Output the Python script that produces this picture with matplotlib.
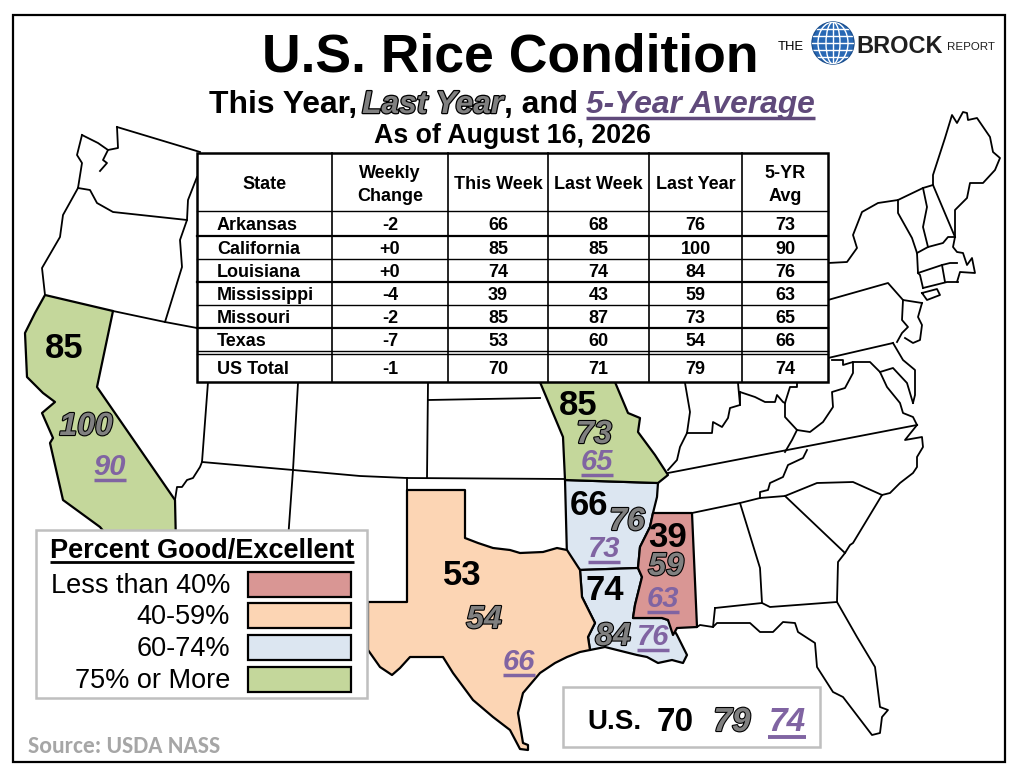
import matplotlib
matplotlib.use('Agg')
import matplotlib.pyplot as plt
from matplotlib.patches import Polygon, Rectangle, Circle, Ellipse
import matplotlib.patheffects as pe
from matplotlib import font_manager as fm

# ---------------- data ----------------
states = ['Arkansas', 'California', 'Louisiana', 'Mississippi', 'Missouri', 'Texas']
weekly_change = [-2, 0, 0, -4, -2, -7]
this_week = [66, 85, 74, 39, 85, 53]
last_week = [68, 85, 74, 43, 87, 60]
last_year = [76, 100, 84, 59, 73, 54]
five_yr_avg = [73, 90, 76, 63, 65, 66]

us_change = -1
us_this_week = 70
us_last_week = 71
us_last_year = 79
us_five_yr = 74

headers = [['State'], ['Weekly', 'Change'], ['This Week'], ['Last Week'], ['Last Year'], ['5-YR', 'Avg']]
legend_labels = ['Less than 40%', '40-59%', '60-74%', '75% or More']
legend_colors = ['#D99694', '#FCD5B4', '#DCE6F1', '#C4D79B']
bin_edges = [40, 60, 75]

title = 'U.S. Rice Condition'
date_line = 'As of August 16, 2026'
source = 'Source: USDA NASS'

# ---------------- fonts ----------------
def have(name):
    try:
        fm.findfont(fm.FontProperties(family=name), fallback_to_default=False)
        return True
    except Exception:
        return False

HAS_NARROW = have('Liberation Sans Narrow')
NARROW = 'Liberation Sans Narrow' if HAS_NARROW else 'Liberation Sans'
NS = 1.0 if HAS_NARROW else 0.94
ARIAL = 'Liberation Sans'
SRC = 'Carlito' if have('Carlito') else 'Lato'

GRAY = '#808080'
PURPLE = '#8064A2'
PURPLE_DARK = '#604A7B'

fig = plt.figure(figsize=(10.24, 7.75), dpi=100)
ax = fig.add_axes([0, 0, 1, 1])
ax.set_xlim(0, 1024)
ax.set_ylim(775, 0)
ax.axis('off')
R = fig.canvas.get_renderer()


def txt(x, y, s, size, family=ARIAL, weight='bold', style='normal', color='black',
        ha='center', va='baseline', outline=False, z=10, olw=1.6):
    t = ax.text(x, y, s, fontsize=size, family=[family, 'DejaVu Sans'], weight=weight,
                style=style, color=color, ha=ha, va=va, zorder=z)
    if outline:
        t.set_path_effects([pe.Stroke(linewidth=olw, foreground='black'), pe.Normal()])
    return t


def underline(t, dy=5, lw=2.5, color=None, pad=0):
    bb = t.get_window_extent(renderer=R)
    inv = ax.transData.inverted()
    (x0, _), (x1, _) = inv.transform([[bb.x0, bb.y0], [bb.x1, bb.y1]])
    y = t.get_position()[1] + dy
    ax.plot([x0 - pad, x1 + pad], [y, y], color=color or t.get_color(), lw=lw,
            solid_capstyle='butt', zorder=t.get_zorder())


def seq(pieces, xc, y):
    ts, widths = [], []
    for s, kw, gap in pieces:
        t = txt(0, y, s, ha='left', **kw)
        bb = t.get_window_extent(renderer=R)
        ts.append(t)
        widths.append(bb.width + gap)
    total = sum(widths) - pieces[-1][2]
    x = xc - total / 2
    for t, w in zip(ts, widths):
        t.set_x(x)
        x += w
    return ts


# ---------------- frame ----------------
ax.add_patch(Rectangle((13, 15), 992, 747, fill=False, ec='black', lw=1.6, zorder=20))

# ---------------- map ----------------
state_shapes = {
    'California': [(45, 295), (113, 311), (97, 387), (175, 500), (176, 545), (115, 545), (100, 527),
                   (63, 500), (50, 443), (53, 438), (42, 413), (55, 402), (43, 393), (27, 377),
                   (25, 333), (35, 313)],
    'Missouri': [(537, 375), (612, 375), (628, 413), (640, 418), (638, 432), (655, 455), (668, 475),
                 (658, 483), (565, 480), (563, 437)],
    'Arkansas': [(565, 480), (658, 483), (657, 497), (653, 513), (650, 527), (640, 547), (638, 568),
                 (580, 570), (567, 557)],
    'Louisiana': [(580, 570), (638, 568), (642, 577), (635, 605), (633, 618), (662, 618), (668, 620),
                  (677, 635), (687, 655), (683, 663), (672, 660), (658, 663), (647, 657), (637, 655),
                  (617, 650), (605, 647), (590, 650), (588, 637), (595, 623), (590, 613), (582, 597)],
    'Mississippi': [(653, 513), (692, 513), (697, 627), (677, 628), (673, 635), (668, 620), (662, 618),
                    (633, 618), (635, 605), (642, 577), (638, 568), (640, 547), (650, 527)],
    'Texas': [(407, 490), (465, 490), (465, 538), (478, 543), (493, 548), (510, 550), (520, 553),
              (543, 552), (557, 548), (567, 550), (580, 570), (582, 597), (590, 613), (595, 623),
              (588, 637), (590, 650), (580, 652), (567, 657), (555, 663), (540, 673), (523, 693),
              (518, 713), (523, 743), (528, 745), (528, 750), (520, 749), (510, 730), (493, 717),
              (473, 700), (453, 673), (443, 657), (410, 657), (400, 668), (392, 675), (380, 667),
              (368, 650), (368, 602), (407, 602)],
}


def cat(v):
    return sum(v >= e for e in bin_edges)


for name, val in zip(states, this_week):
    ax.add_patch(Polygon(state_shapes[name], closed=True, fc=legend_colors[cat(val)],
                         ec='black', lw=1.6, joinstyle='round', zorder=2))

border_lines = [
    # west
    [(117, 127), (200, 152)],
    [(117, 127), (118, 148), (108, 150)],
    [(82, 135), (98, 143), (108, 150), (103, 160), (107, 163), (100, 171)],
    [(82, 135), (77, 155), (82, 163), (78, 188)],
    [(78, 188), (90, 190), (97, 203), (113, 212), (187, 220)],
    [(78, 188), (63, 215), (60, 237), (42, 268), (45, 295)],
    [(197, 177), (188, 200), (187, 220), (180, 240), (182, 267), (165, 322)],
    [(113, 311), (165, 322), (197, 328)],
    [(208, 382), (202, 462)],
    [(202, 462), (200, 467), (193, 478), (187, 480), (182, 487), (177, 487), (175, 500)],
    [(202, 462), (293, 470), (360, 476), (407, 478), (565, 479)],
    [(298, 383), (293, 470), (288, 540)],
    [(428, 383), (427, 478)],
    [(428, 400), (540, 398)],
    [(407, 478), (407, 490)],
    [(368, 602), (340, 602)],
    # midwest / east
    [(685, 383), (690, 412), (687, 433)],
    [(687, 433), (680, 447), (677, 460), (668, 470)],
    [(687, 433), (712, 433), (713, 422), (722, 427), (728, 418), (730, 408), (740, 405), (740, 392)],
    [(738, 383), (740, 405)],
    [(740, 392), (755, 397), (765, 402), (775, 402), (777, 395), (783, 402), (785, 403)],
    [(797, 383), (797, 387), (790, 387), (785, 403)],
    [(785, 403), (785, 417), (797, 430), (810, 432), (823, 422), (833, 407), (832, 392), (845, 388),
     (853, 373), (853, 362), (843, 365), (843, 360), (832, 360)],
    [(828, 358), (893, 343)],
    [(853, 362), (870, 362), (880, 372), (887, 387), (900, 403), (903, 413), (913, 417), (917, 425)],
    [(893, 343), (903, 360), (915, 370), (915, 395), (913, 403)],
    [(880, 372), (893, 368), (907, 383), (913, 403)],
    [(797, 430), (792, 440), (785, 452)],
    [(668, 473), (917, 425)],
    [(917, 425), (905, 440), (922, 437), (923, 447), (917, 457), (917, 467), (913, 473), (900, 483),
     (890, 493), (882, 495)],
    [(807, 450), (803, 458), (788, 465), (783, 477), (770, 483), (768, 490), (760, 492), (760, 498)],
    [(692, 513), (740, 503), (760, 498), (785, 496), (817, 483), (853, 482), (882, 495)],
    [(785, 496), (845, 553), (850, 545), (853, 543), (882, 495)],
    [(740, 503), (760, 568), (762, 603)],
    [(715, 608), (762, 603), (770, 607), (837, 602)],
    [(845, 553), (838, 562), (837, 602)],
    [(837, 602), (857, 637), (875, 667), (880, 707), (888, 710), (882, 717), (880, 733), (872, 735),
     (843, 697), (833, 692), (817, 667), (815, 643), (798, 632), (795, 623), (783, 622), (773, 632),
     (760, 632), (750, 623), (717, 623), (713, 627), (715, 608)],
    [(697, 627), (700, 625), (713, 627)],
    # northeast
    [(828, 263), (847, 262), (857, 248), (853, 235), (862, 212), (878, 203), (898, 200), (923, 188),
     (933, 185)],
    [(898, 200), (898, 213), (912, 238), (917, 253), (918, 273), (920, 275), (923, 288)],
    [(923, 188), (927, 207), (923, 227), (928, 247)],
    [(933, 185), (955, 237)],
    [(933, 185), (933, 175), (945, 138), (952, 115), (957, 123), (963, 112), (967, 113), (968, 120),
     (977, 118), (990, 137), (993, 152), (1000, 158), (995, 170), (983, 183), (970, 183), (967, 198),
     (955, 210), (955, 237)],
    [(917, 253), (928, 247), (943, 243), (948, 237), (955, 237)],
    [(955, 237), (953, 247), (957, 252), (963, 253), (967, 265), (972, 258), (975, 273), (960, 272),
     (957, 282)],
    [(918, 273), (942, 265), (950, 263), (957, 263)],
    [(942, 265), (945, 282)],
    [(923, 288), (947, 282), (958, 282)],
    [(922, 293), (927, 300), (940, 295), (937, 289), (922, 293)],
    [(828, 300), (888, 283), (903, 300), (922, 303)],
    [(903, 300), (902, 320), (908, 327), (902, 333), (897, 342)],
    [(922, 303), (918, 317), (922, 325), (920, 340), (913, 343), (905, 338)],
]
for pts in border_lines:
    xs, ys = zip(*pts)
    ax.plot(xs, ys, color='black', lw=1.3, solid_joinstyle='round', zorder=3)

# ---------------- titles ----------------
txt(510, 72, title, 41 * NS, family=NARROW, z=12)
sub_base = dict(size=24.3 * NS, family=NARROW)
seq([
    ('This Year,', dict(**sub_base), 5),
    ('Last Year', dict(**sub_base, style='italic', color=GRAY, outline=True, olw=1.8), 1),
    (', and', dict(**sub_base), 8),
    ('5-Year Average', dict(**sub_base, style='italic', color=PURPLE_DARK), 0),
], 512, 113)
underline(ax.texts[-1], dy=5, lw=2.5, color=PURPLE_DARK)
txt(512, 143, date_line, 20.5 * NS, family=NARROW, z=12)

# ---------------- logo ----------------
txt(791, 50, 'THE', 10 * NS, family=NARROW, weight='normal')
globe = Circle((833, 43), 21, fc='#2868B4', ec='#1B4F8E', lw=1, zorder=11)
ax.add_patch(globe)
for dy in (-14, -7, 0, 7, 14):
    ln, = ax.plot([810, 856], [43 + dy, 43 + dy], color='white', lw=1.0, zorder=12)
    ln.set_clip_path(globe)
for w in (14, 30):
    e = Ellipse((833, 43), w, 42, fill=False, ec='white', lw=1.0, zorder=12)
    ax.add_patch(e)
    e.set_clip_path(globe)
ln, = ax.plot([833, 833], [20, 66], color='white', lw=1.0, zorder=12)
ln.set_clip_path(globe)
brock = txt(856, 53, 'BROCK', 18 * NS, family=NARROW, ha='left', color='#1F1F1F')
bw = brock.get_window_extent(renderer=R).width
txt(856 + bw + 4, 50, 'REPORT', 8.8 * NS, family=NARROW, weight='normal', ha='left', color='#1F1F1F')

# ---------------- table ----------------
col_edges = [197, 332, 448, 548, 649, 742, 828]
row_edges = [153, 211, 236, 259, 282, 305, 328, 351]
total_top, total_bot = 354, 382
ax.add_patch(Rectangle((col_edges[0], row_edges[0]), col_edges[-1] - col_edges[0],
                       total_bot - row_edges[0], fc='white', ec='black', lw=1.8, zorder=6))
row_lw = [1.0, 1.6, 1.0, 1.6, 1.0, 1.6, 1.0]
for y, lw in zip(row_edges[1:], row_lw):
    ax.plot([col_edges[0], col_edges[-1]], [y, y], color='black', lw=lw, zorder=7)
ax.plot([col_edges[0], col_edges[-1]], [total_top, total_top], color='black', lw=1.0, zorder=7)
for x in col_edges[1:-1]:
    ax.plot([x, x], [row_edges[0], total_bot], color='black', lw=1.2, zorder=7)

centers = [(a + b) / 2 for a, b in zip(col_edges[:-1], col_edges[1:])]
TS = 13
for c, h in zip(centers, headers):
    if len(h) == 1:
        txt(c, 189, h[0], TS)
    else:
        txt(c, 178, h[0], TS)
        txt(c, 201, h[1], TS)

rows = list(zip(states, weekly_change, this_week, last_week, last_year, five_yr_avg))
for i, (s, ch, tw, lwk, ly, av) in enumerate(rows):
    yb = (row_edges[i + 1] + row_edges[i + 2]) / 2 + 6.5
    txt(col_edges[0] + 20, yb, s, TS, ha='left')
    for c, v in zip(centers[1:], [f'{ch:+d}', tw, lwk, ly, av]):
        txt(c, yb, str(v), TS)
yb = (total_top + total_bot) / 2 + 6.5
txt(col_edges[0] + 20, yb, 'US Total', TS, ha='left')
for c, v in zip(centers[1:], [f'{us_change:+d}', us_this_week, us_last_week, us_last_year, us_five_yr]):
    txt(c, yb, str(v), TS)

# ---------------- map labels ----------------
label_pos = {
    'California': [(64, 358), (86, 435), (110, 475)],
    'Missouri': [(578, 415), (594, 443), (597, 470)],
    'Arkansas': [(589, 515), (627, 530), (604, 557)],
    'Mississippi': [(668, 547), (666, 575), (663, 607)],
    'Louisiana': [(605, 600), (613, 645), (653, 645)],
    'Texas': [(462, 585), (484, 628), (519, 670)],
}
for s, tw, ly, av in zip(states, this_week, last_year, five_yr_avg):
    p0, p1, p2 = label_pos[s]
    txt(p0[0], p0[1], str(tw), 25)
    txt(p1[0], p1[1], str(ly), 23, style='italic', color=GRAY, outline=True)
    t = txt(p2[0], p2[1], str(av), 21, style='italic', color=PURPLE)
    underline(t, dy=5, lw=2.5)

# ---------------- legend ----------------
ax.add_patch(Rectangle((36, 530), 331, 168, fc='white', ec='#BFBFBF', lw=1.8, zorder=8))
t = txt(202, 558, 'Percent Good/Excellent', 19.5)
underline(t, dy=4, lw=2.0, color='black')
sw_tops = [572, 603, 635, 667]
for lab, col, top in zip(legend_labels, legend_colors, sw_tops):
    txt(230, top + 21, lab, 19.5, weight='normal', ha='right')
    ax.add_patch(Rectangle((248, top), 103, 25, fc=col, ec='black', lw=1.6, zorder=9))

# ---------------- US box ----------------
ax.add_patch(Rectangle((563, 687), 257, 60, fc='white', ec='#BFBFBF', lw=1.8, zorder=8))
txt(587, 729, 'U.S.', 20, ha='left')
txt(675, 731, str(us_this_week), 24)
txt(732, 731, str(us_last_year), 24, style='italic', color=GRAY, outline=True)
t = txt(787, 731, str(us_five_yr), 24, style='italic', color=PURPLE)
underline(t, dy=6, lw=2.8)

# ---------------- source ----------------
txt(28, 753, source, 17, family=SRC, ha='left', color='#A6A6A6')

fig.savefig('out.png', dpi=100)
